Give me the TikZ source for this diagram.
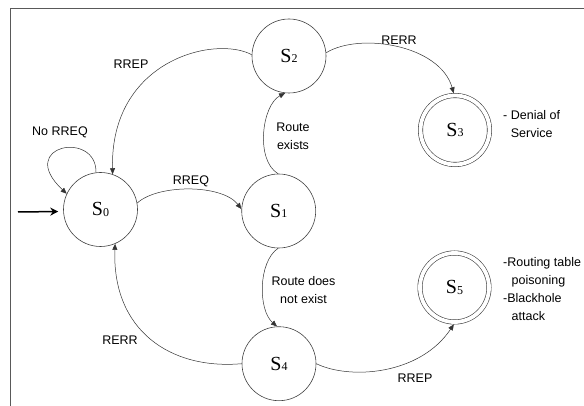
\documentclass[tikz,border=0pt]{standalone}
\usepackage{fontspec}
\setmainfont{Liberation Serif}
\setsansfont{Liberation Sans}
\usetikzlibrary{arrows.meta}
\begin{document}
\begin{tikzpicture}[x=1pt,y=1pt,
  state/.style={circle,draw=black!75,line width=0.6pt,minimum size=74pt,inner sep=0pt,outer sep=0.3pt,
    font=\fontsize{20}{20}\selectfont\rmfamily},
  final/.style={circle,draw=black!75,line width=0.6pt,double,double distance=3.8pt,minimum size=69pt,inner sep=0pt,outer sep=2.3pt,
    font=\fontsize{20}{20}\selectfont\rmfamily},
  trans/.style={draw=black!80,line width=0.5pt,-{Triangle[length=6pt,width=5pt]}},
  lbl/.style={font=\fontsize{12.5}{18.5}\selectfont\sffamily,inner sep=0pt,align=center},
  note/.style={font=\fontsize{12.5}{17.8}\selectfont\sffamily,inner sep=0pt,align=left,anchor=north west},
  frame/.style={draw=black!65,line width=0.8pt}
]
\newcommand{\stname}[1]{S{\fontsize{12}{12}\selectfont\raisebox{-0.6pt}{#1}}}
\useasboundingbox (0,-406) rectangle (584,0);
% frame
\coordinate (ftl) at (10,-8);
\coordinate (ftr) at (584,-8);
\coordinate (fbl) at (10,-406);
\draw[frame] (ftr) -- (ftl) -- (fbl);
% states
\node[state] (s0) at (100.5,-209.5) {\stname{0}};
\node[state] (s1) at (278.7,-211) {\stname{1}};
\node[state] (s2) at (289,-56) {\stname{2}};
\node[final] (s3) at (455,-130) {\stname{3}};
\node[state] (s4) at (279,-363.7) {\stname{4}};
\node[final] (s5) at (454.5,-287.5) {\stname{5}};
% initial arrow
\coordinate (init) at (18,-212);
\draw[line width=1.5pt,-{Stealth[length=8pt,width=8pt]},shorten >=5pt] (init) -- (s0.183);
% transitions
\draw[trans] (s0.97) .. controls (97,-130) and (15,-145) .. (s0.155);
\draw[trans] (s2.178) .. controls (215,-35) and (110,-60) .. (s0.71);
\draw[trans] (s2.5) .. controls (360,-32) and (440,-45) .. (s3.92);
\draw[trans] (s0.10) .. controls (158,-184) and (222,-184) .. (s1.177);
\draw[trans] (s1.91) .. controls (255,-160) and (262,-105) .. (s2.264);
\draw[trans] (s1.269) .. controls (258,-262) and (258,-310) .. (s4.93);
\draw[trans] (s4.180) .. controls (170,-370) and (112,-330) .. (s0.293);
\draw[trans] (s4.0) .. controls (350,-380) and (420,-375) .. (s5.269);
% labels
\node[lbl] (lnorreq) at (60,-132) {No RREQ};
\node[lbl] (lrrep1) at (131,-64) {RREP};
\node[lbl] (lrerr1) at (399,-40) {RERR};
\node[lbl] (lrreq) at (191,-181) {RREQ};
\node[lbl] (lexists) at (293,-136.5) {Route\\exists};
\node[lbl] (lnotexist) at (303.5,-290) {Route does\\not exist};
\node[lbl] (lrerr2) at (120,-340) {RERR};
\node[lbl] (lrrep2) at (415,-378) {RREP};
\node[note] (n3) at (503,-110.5) {- Denial of\\\hspace*{7.6pt}Service};
\node[note] (n5) at (503,-257.5) {-Routing table\\\hspace*{8.5pt}poisoning\\-Blackhole\\\hspace*{8.5pt}attack};
\end{tikzpicture}
\end{document}
